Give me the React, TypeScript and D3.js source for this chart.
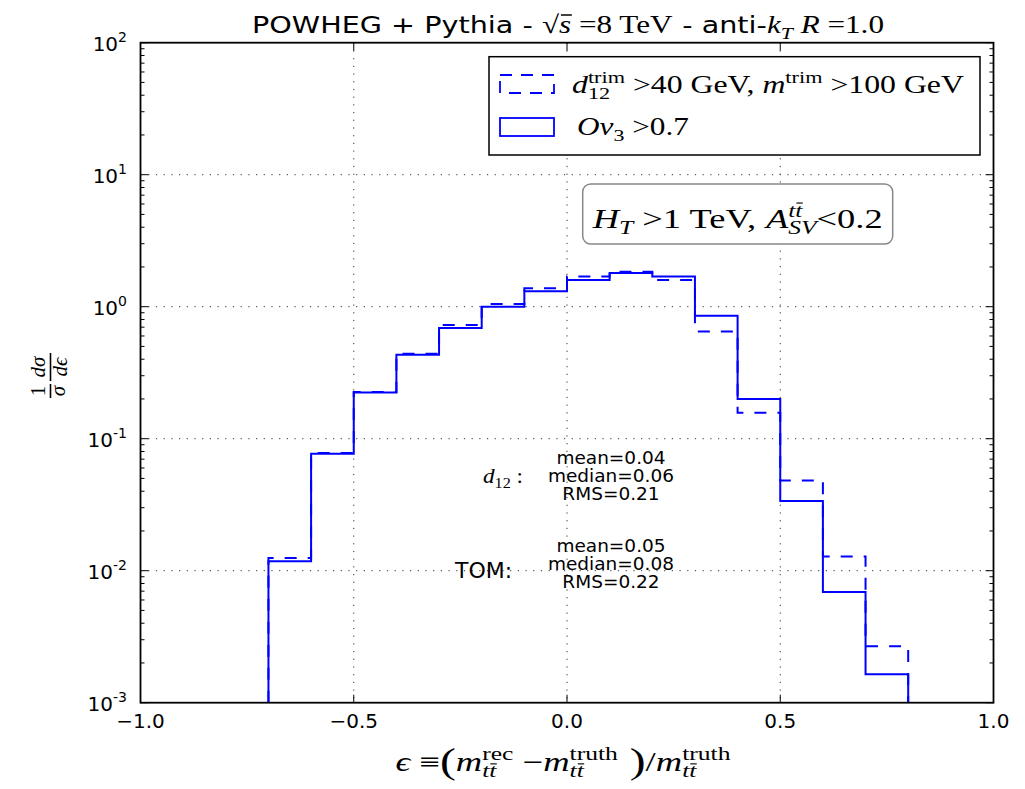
import React from "react";
import * as d3 from "d3";

// ---------------- data ----------------
const binEdges = [-0.7, -0.6, -0.5, -0.4, -0.3, -0.2, -0.1, 0.0, 0.1, 0.2, 0.3, 0.4, 0.5, 0.6, 0.7, 0.8];
const d12Values = [0.0125, 0.078, 0.226, 0.44, 0.727, 1.05, 1.38, 1.69, 1.84, 1.59, 0.65, 0.157, 0.0483, 0.0128, 0.00268];
const ov3Values = [0.0118, 0.077, 0.224, 0.433, 0.69, 1.0, 1.31, 1.59, 1.8, 1.69, 0.855, 0.2, 0.0337, 0.0069, 0.00164];
const xTicks = [-1.0, -0.5, 0.0, 0.5, 1.0];
const xTickLabels = ["\u22121.0", "\u22120.5", "0.0", "0.5", "1.0"];
const yDecades = [-3, -2, -1, 0, 1, 2];
const d12Stats = ["mean=0.04", "median=0.06", "RMS=0.21"];
const tomStats = ["mean=0.05", "median=0.08", "RMS=0.22"];

// ---------------- layout ----------------
const W = 1025;
const H = 789;
const PL = 140.5, PR = 993.5, PT = 42.7, PB = 702.7;
const BLUE = "#0000ff";
const SERIF = "'Liberation Serif', 'DejaVu Serif', serif";
const SANS = "'DejaVu Sans', sans-serif";

type Atom = { t: string; it?: boolean; sans?: boolean; scale?: number; dy?: number; bar?: boolean; dx?: number };
type Item = Atom | { sub?: Atom[]; sup?: Atom[] };

let _ctx: CanvasRenderingContext2D | null = null;
function measure(t: string, size: number, it: boolean, sans: boolean) {
  if (!_ctx) _ctx = document.createElement("canvas").getContext("2d");
  _ctx!.font = `${it ? "italic " : ""}${size}px ${sans ? SANS : SERIF}`;
  return _ctx!.measureText(t).width;
}

type Placed = { t: string; x: number; y: number; size: number; it: boolean; sans: boolean; bar: boolean; w: number };

function layout(items: Item[], size: number, sansSize?: number) {
  const placed: Placed[] = [];
  let cx = 0;
  const placeAtoms = (atoms: Atom[], start: number, s: number, ss: number, dy: number) => {
    let c = start;
    for (const a of atoms) {
      const sz = (a.sans ? ss : s) * (a.scale ?? 1);
      c += a.dx ?? 0;
      const w = measure(a.t, sz, !!a.it, !!a.sans);
      placed.push({ t: a.t, x: c, y: dy + (a.dy ?? 0), size: sz, it: !!a.it, sans: !!a.sans, bar: !!a.bar, w });
      c += w;
    }
    return c;
  };
  const ss = sansSize ?? size;
  for (const item of items) {
    if ("t" in item) {
      cx = placeAtoms([item as Atom], cx, size, ss, 0);
    } else {
      const g = item as { sub?: Atom[]; sup?: Atom[] };
      let e1 = cx, e2 = cx;
      if (g.sub) e1 = placeAtoms(g.sub, cx, size * 0.7, ss * 0.7, size * 0.24);
      if (g.sup) e2 = placeAtoms(g.sup, cx, size * 0.7, ss * 0.7, -size * 0.42);
      cx = Math.max(e1, e2);
    }
  }
  return { placed, width: cx };
}

function MathText(props: {
  x: number; y: number; items: Item[]; size: number; sansSize?: number;
  anchor?: "start" | "middle" | "end"; fill?: string; targetWidth?: number;
}) {
  const { x, y, items, size, sansSize, anchor = "start", fill = "#000", targetWidth } = props;
  const { placed, width } = layout(items, size, sansSize);
  const sx = targetWidth ? targetWidth / width : 1;
  const fw = width * sx;
  const off = anchor === "middle" ? -fw / 2 : anchor === "end" ? -fw : 0;
  return (
    <g transform={`translate(${x + off},${y}) scale(${sx},1)`}>
      {placed.map((p, i) => (
        <g key={i}>
          <text
            x={p.x}
            y={p.y}
            fontFamily={p.sans ? SANS : SERIF}
            fontStyle={p.it ? "italic" : "normal"}
            fontSize={p.size}
            fill={fill}
            style={{ whiteSpace: "pre" }}
          >
            {p.t}
          </text>
          {p.bar && (
            <line x1={p.x + p.w * 0.15} x2={p.x + p.w * 1.05} y1={p.y - p.size * 0.72} y2={p.y - p.size * 0.72} stroke={fill} strokeWidth={p.size * 0.06} />
          )}
        </g>
      ))}
    </g>
  );
}

const tt: Atom[] = [{ t: "t", it: true }, { t: "t", it: true, bar: true }];

export default function App() {
  const x = d3.scaleLinear().domain([-1, 1]).range([PL, PR]);
  const y = d3.scaleLog().domain([1e-3, 1e2]).range([PB, PT]);

  const histPath = (vals: number[]) => {
    const pts: [number, number][] = [[x(binEdges[0]), PB]];
    vals.forEach((v, i) => {
      pts.push([x(binEdges[i]), y(v)]);
      pts.push([x(binEdges[i + 1]), y(v)]);
    });
    pts.push([x(binEdges[binEdges.length - 1]), PB]);
    return d3.line()(pts) as string;
  };

  const minorTicks: number[] = [];
  for (let d = -3; d < 2; d++) for (let k = 2; k <= 9; k++) minorTicks.push(k * Math.pow(10, d));

  const gridStyle = { stroke: "#333", strokeWidth: 1, strokeDasharray: "1.2 6.5" };

  return (
    <svg width={W} height={H} style={{ position: "absolute", left: 0, top: 0, background: "#fff" }}>
      <rect x={0} y={0} width={W} height={H} fill="#fff" />
      <defs>
        <clipPath id="plotclip">
          <rect x={PL} y={PT} width={PR - PL} height={PB - PT} />
        </clipPath>
      </defs>

      {/* grid */}
      {xTicks.slice(1, -1).map((t) => (
        <line key={"gx" + t} x1={x(t)} x2={x(t)} y1={PT} y2={PB} {...gridStyle} />
      ))}
      {yDecades.slice(1, -1).map((d) => (
        <line key={"gy" + d} x1={PL} x2={PR} y1={y(Math.pow(10, d))} y2={y(Math.pow(10, d))} {...gridStyle} />
      ))}

      {/* histograms */}
      <g clipPath="url(#plotclip)">
        <path d={histPath(d12Values)} fill="none" stroke={BLUE} strokeWidth={2} strokeDasharray="12 11" />
        <path d={histPath(ov3Values)} fill="none" stroke={BLUE} strokeWidth={2} />
      </g>

      {/* ticks */}
      {xTicks.map((t) => (
        <g key={"tx" + t}>
          <line x1={x(t)} x2={x(t)} y1={PB} y2={PB - 8} stroke="#000" strokeWidth={1} />
          <line x1={x(t)} x2={x(t)} y1={PT} y2={PT + 8} stroke="#000" strokeWidth={1} />
        </g>
      ))}
      {yDecades.map((d) => (
        <g key={"ty" + d}>
          <line x1={PL} x2={PL + 8} y1={y(Math.pow(10, d))} y2={y(Math.pow(10, d))} stroke="#000" strokeWidth={1} />
          <line x1={PR} x2={PR - 8} y1={y(Math.pow(10, d))} y2={y(Math.pow(10, d))} stroke="#000" strokeWidth={1} />
        </g>
      ))}
      {minorTicks.map((v, i) => (
        <g key={"mt" + i}>
          <line x1={PL} x2={PL + 4} y1={y(v)} y2={y(v)} stroke="#000" strokeWidth={1} />
          <line x1={PR} x2={PR - 4} y1={y(v)} y2={y(v)} stroke="#000" strokeWidth={1} />
        </g>
      ))}

      {/* frame */}
      <rect x={PL} y={PT} width={PR - PL} height={PB - PT} fill="none" stroke="#000" strokeWidth={1.8} />

      {/* tick labels */}
      {xTicks.map((t, i) => (
        <text key={"xl" + t} x={x(t)} y={PB + 25} textAnchor="middle" fontFamily={SANS} fontSize={20} fill="#000">
          {xTickLabels[i]}
        </text>
      ))}
      {yDecades.map((d) => (
        <MathText
          key={"yl" + d}
          x={127}
          y={y(Math.pow(10, d)) + 8}
          size={20}
          anchor="end"
          items={[{ t: "10", sans: true }, { sup: [{ t: String(d), sans: true }] }]}
        />
      ))}

      {/* title */}
      <MathText
        x={568}
        y={33}
        size={25}
        sansSize={23}
        anchor="middle"
        targetWidth={632}
        items={[
          { t: "POWHEG + Pythia - ", sans: true },
          { t: "\u221A" },
          { t: "s", it: true, bar: true },
          { t: " =8 TeV" },
          { t: " - anti-", sans: true },
          { t: "k", it: true },
          { sub: [{ t: "T", it: true }] },
          { t: " " },
          { t: "R", it: true },
          { t: " =1.0" },
        ]}
      />

      {/* legend */}
      <rect x={489} y={56.7} width={491} height={98.3} fill="#fff" stroke="#000" strokeWidth={1.5} />
      <rect x={500} y={75} width={54} height={18} fill="none" stroke={BLUE} strokeWidth={1.8} strokeDasharray="12 9" />
      <rect x={500} y={118} width={54} height={18} fill="none" stroke={BLUE} strokeWidth={1.8} />
      <MathText
        x={572}
        y={93}
        size={25}
        targetWidth={392}
        items={[
          { t: "d", it: true },
          { sub: [{ t: "12" }], sup: [{ t: "trim" }] },
          { t: " >40 GeV, " },
          { t: "m", it: true },
          { sup: [{ t: "trim" }] },
          { t: " >100 GeV" },
        ]}
      />
      <MathText
        x={577}
        y={135}
        size={25}
        targetWidth={112}
        items={[{ t: "Ov", it: true }, { sub: [{ t: "3" }] }, { t: " >0.7" }]}
      />

      {/* text box */}
      <rect x={582.7} y={184} width={310} height={60} rx={8} ry={8} fill="#fff" stroke="#888" strokeWidth={1.5} />
      <MathText
        x={737.7}
        y={228}
        size={27}
        anchor="middle"
        targetWidth={290}
        items={[
          { t: "H", it: true },
          { sub: [{ t: "T", it: true }] },
          { t: " >1 TeV, " },
          { t: "A", it: true },
          { sub: [{ t: "SV", it: true }], sup: tt },
          { t: "<0.2" },
        ]}
      />

      {/* stats */}
      <MathText x={483} y={483} size={21} targetWidth={40} items={[{ t: "d", it: true }, { sub: [{ t: "12" }] }, { t: " :" }]} />
      {d12Stats.map((s, i) => (
        <text key={"ds" + i} x={611} y={464 + i * 18} textAnchor="middle" fontFamily={SANS} fontSize={18.5} fill="#000">
          {s}
        </text>
      ))}
      <text x={455} y={578} fontFamily={SANS} fontSize={22} fill="#000">TOM:</text>
      {tomStats.map((s, i) => (
        <text key={"ts" + i} x={611} y={552 + i * 18} textAnchor="middle" fontFamily={SANS} fontSize={18.5} fill="#000">
          {s}
        </text>
      ))}

      {/* x label */}
      <MathText
        x={563}
        y={771}
        size={27}
        anchor="middle"
        targetWidth={335}
        items={[
          { t: "\u03F5", it: true },
          { t: " \u2261" },
          { t: "(", scale: 1.3, dy: 2 },
          { t: "m", it: true },
          { sub: tt, sup: [{ t: "rec" }] },
          { t: " \u2212" },
          { t: "m", it: true },
          { sub: tt, sup: [{ t: "truth" }] },
          { t: " )", scale: 1.3, dy: 2 },
          { t: "/" },
          { t: "m", it: true },
          { sub: tt, sup: [{ t: "truth" }] },
        ]}
      />

      {/* y label: (1/sigma) dsigma/depsilon */}
      <g transform="translate(50.5,375) rotate(-90)">
        <text x={-16} y={-6} textAnchor="middle" fontFamily={SERIF} fontSize={21}>1</text>
        <line x1={-23} x2={-9} y1={0} y2={0} stroke="#000" strokeWidth={1.6} />
        <text x={-16} y={14} textAnchor="middle" fontFamily={SERIF} fontStyle="italic" fontSize={21}>{"\u03C3"}</text>
        <text x={8} y={-6} textAnchor="middle" fontFamily={SERIF} fontStyle="italic" fontSize={21}>{"d\u03C3"}</text>
        <line x1={-6} x2={22} y1={0} y2={0} stroke="#000" strokeWidth={1.6} />
        <text x={8} y={16} textAnchor="middle" fontFamily={SERIF} fontStyle="italic" fontSize={21}>{"d\u03F5"}</text>
      </g>
    </svg>
  );
}
